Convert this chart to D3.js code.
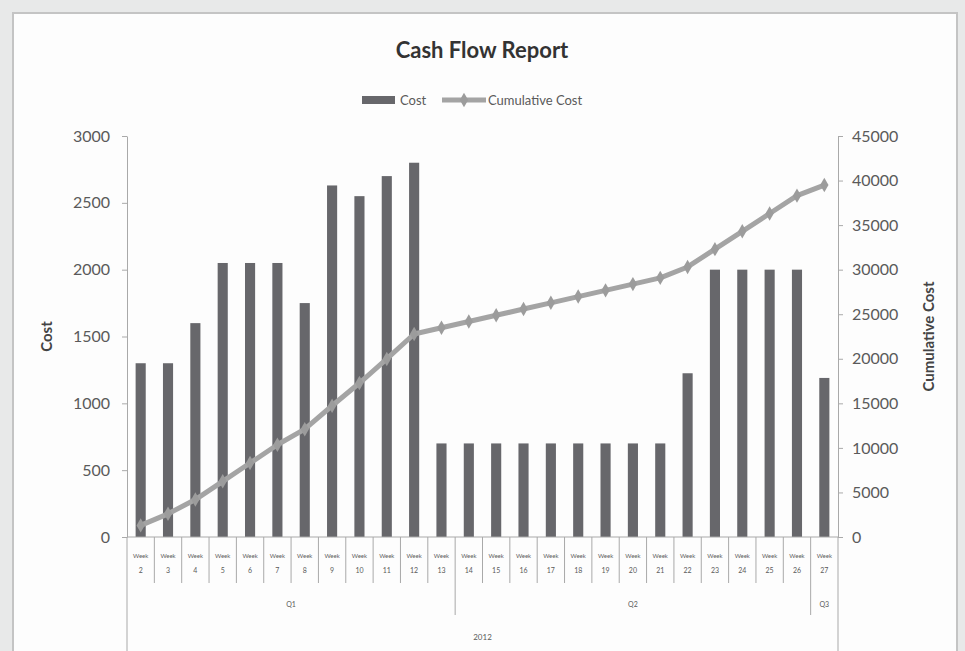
<!DOCTYPE html>
<html>
<head>
<meta charset="utf-8">
<script src="https://cdn.jsdelivr.net/npm/d3@7"></script>
<style>
  body { margin: 0; background: #e8e9e9; }
  svg { display: block; font-family: Lato, "Open Sans", sans-serif; }
</style>
</head>
<body>
<svg id="chart" width="965" height="651"></svg>
<script>
// Weekly cost and running total, 2012
const weeks = ["Week 2","Week 3","Week 4","Week 5","Week 6","Week 7","Week 8","Week 9","Week 10",
  "Week 11","Week 12","Week 13","Week 14","Week 15","Week 16","Week 17","Week 18","Week 19",
  "Week 20","Week 21","Week 22","Week 23","Week 24","Week 25","Week 26","Week 27"];
const cost = [1300,1300,1600,2050,2050,2050,1750,2630,2550,2700,2800,700,700,700,700,700,700,700,
  700,700,1225,2000,2000,2000,2000,1190];
const cumulativeCost = [1300,2600,4200,6250,8300,10350,12100,14730,17280,19980,22780,23480,24180,
  24880,25580,26280,26980,27680,28380,29080,30305,32305,34305,36305,38305,39495];
const quarters = ["Q1","Q2","Q3"];
const quarterFirstWeek = ["Week 2","Week 14","Week 27"];
const year = "2012";
const costTicks = [0,500,1000,1500,2000,2500,3000];
const cumulativeTicks = [0,5000,10000,15000,20000,25000,30000,35000,40000,45000];

const svg = d3.select("#chart");
const W = 965, H = 651;
const plot = { left: 127, right: 838, top: 136, bottom: 537 };

const barColor = "#67676b";
const lineColor = "#a4a4a4";
const axisColor = "#a9a9a9";
const textColor = "#5a5a5a";

// Chart frame
svg.append("rect").attr("x", 0).attr("y", 0).attr("width", W).attr("height", H).attr("fill", "#e8e9e9");
svg.append("rect").attr("x", 13).attr("y", 13).attr("width", 944).attr("height", H)
  .attr("fill", "#fdfdfd").attr("stroke", "#c4c4c4").attr("stroke-width", 2);

const x = d3.scaleBand().domain(weeks).range([plot.left, plot.right]).padding(0);
const yCost = d3.scaleLinear().domain([0, 3000]).range([plot.bottom, plot.top]);
const yCum = d3.scaleLinear().domain([0, 45000]).range([plot.bottom, plot.top]);

// Title
svg.append("text").attr("x", 482).attr("y", 58).attr("text-anchor", "middle")
  .attr("font-size", 22).attr("font-weight", 700).attr("fill", "#333")
  .text("Cash Flow Report");

// Legend
const lg = svg.append("g");
lg.append("rect").attr("x", 362).attr("y", 96).attr("width", 33).attr("height", 8).attr("fill", barColor);
lg.append("text").attr("x", 400).attr("y", 105).attr("font-size", 13).attr("fill", textColor).text("Cost");
lg.append("line").attr("x1", 442).attr("x2", 486).attr("y1", 100).attr("y2", 100)
  .attr("stroke", lineColor).attr("stroke-width", 5);
lg.append("path").attr("d", d3.symbol(d3.symbolDiamond, 60)()).attr("transform", "translate(464,100)")
  .attr("fill", "#9c9c9c");
lg.append("text").attr("x", 488).attr("y", 105).attr("font-size", 13).attr("fill", textColor).text("Cumulative Cost");

// Left axis
const leftAxis = svg.append("g").attr("transform", `translate(${plot.left},0)`)
  .call(d3.axisLeft(yCost).tickValues(costTicks).tickFormat(d3.format("d"))
    .tickSize(5).tickSizeOuter(0).tickPadding(12));
leftAxis.selectAll("text").attr("font-size", 16).attr("fill", textColor).attr("font-family", "Lato");
leftAxis.selectAll("line, path").attr("stroke", axisColor);

// Right axis
const rightAxis = svg.append("g").attr("transform", `translate(${plot.right},0)`)
  .call(d3.axisRight(yCum).tickValues(cumulativeTicks).tickFormat(d3.format("d"))
    .tickSize(5).tickSizeOuter(0).tickPadding(9));
rightAxis.selectAll("text").attr("font-size", 16).attr("fill", textColor).attr("font-family", "Lato");
rightAxis.selectAll("line, path").attr("stroke", axisColor);

// Axis titles
svg.append("text").attr("transform", `translate(52,${(plot.top + plot.bottom) / 2}) rotate(-90)`)
  .attr("text-anchor", "middle").attr("font-size", 15).attr("font-weight", 700).attr("fill", "#444")
  .text("Cost");
svg.append("text").attr("transform", `translate(934,${(plot.top + plot.bottom) / 2}) rotate(-90)`)
  .attr("text-anchor", "middle").attr("font-size", 15).attr("font-weight", 700).attr("fill", "#444")
  .text("Cumulative Cost");

// Bars
const barW = x.bandwidth() * 0.37;
svg.append("g").selectAll("rect").data(weeks).join("rect")
  .attr("x", (d) => x(d) + (x.bandwidth() - barW) / 2)
  .attr("y", (d, i) => yCost(cost[i]))
  .attr("width", barW)
  .attr("height", (d, i) => yCost(0) - yCost(cost[i]))
  .attr("fill", barColor);

// Cumulative line with markers
const cx = (d) => x(d) + x.bandwidth() / 2;
svg.append("path")
  .datum(weeks)
  .attr("d", d3.line().x(cx).y((d, i) => yCum(cumulativeCost[i])))
  .attr("fill", "none").attr("stroke", lineColor).attr("stroke-width", 5)
  .attr("stroke-linejoin", "round");
svg.append("g").selectAll("path").data(weeks).join("path")
  .attr("d", d3.symbol(d3.symbolDiamond, 60)())
  .attr("transform", (d, i) => `translate(${cx(d)},${yCum(cumulativeCost[i])})`)
  .attr("fill", "#9c9c9c");

// Multi-level category axis
const xa = svg.append("g");
xa.append("line").attr("x1", plot.left).attr("x2", plot.right).attr("y1", plot.bottom).attr("y2", plot.bottom)
  .attr("stroke", axisColor);
// week separators
xa.selectAll("line.sep").data(weeks.slice(1)).join("line").attr("class", "sep")
  .attr("x1", (d) => x(d)).attr("x2", (d) => x(d))
  .attr("y1", plot.bottom).attr("y2", 583).attr("stroke", axisColor);
// outer edges
[plot.left, plot.right].forEach((px) => {
  xa.append("line").attr("x1", px).attr("x2", px).attr("y1", plot.bottom).attr("y2", H)
    .attr("stroke", axisColor);
});
// week labels (two lines)
const wl = xa.selectAll("text.wk").data(weeks).join("text").attr("class", "wk")
  .attr("text-anchor", "middle").attr("fill", textColor);
wl.append("tspan").attr("x", cx).attr("y", 558).attr("font-size", 6).text((d) => d.split(" ")[0]);
wl.append("tspan").attr("x", cx).attr("y", 573).attr("font-size", 7).text((d) => d.split(" ")[1]);

// quarter groups
const qStart = quarterFirstWeek.map((w) => x(w));
const qEnd = qStart.slice(1).concat([plot.right]);
quarters.forEach((q, i) => {
  if (i > 0) {
    xa.append("line").attr("x1", qStart[i]).attr("x2", qStart[i]).attr("y1", 583).attr("y2", 615)
      .attr("stroke", axisColor);
  }
  xa.append("text").attr("x", (qStart[i] + qEnd[i]) / 2).attr("y", 607)
    .attr("text-anchor", "middle").attr("font-size", 7).attr("fill", textColor).text(q);
});
xa.append("text").attr("x", (plot.left + plot.right) / 2).attr("y", 640)
  .attr("text-anchor", "middle").attr("font-size", 8).attr("fill", textColor).text(year);
</script>
</body>
</html>
